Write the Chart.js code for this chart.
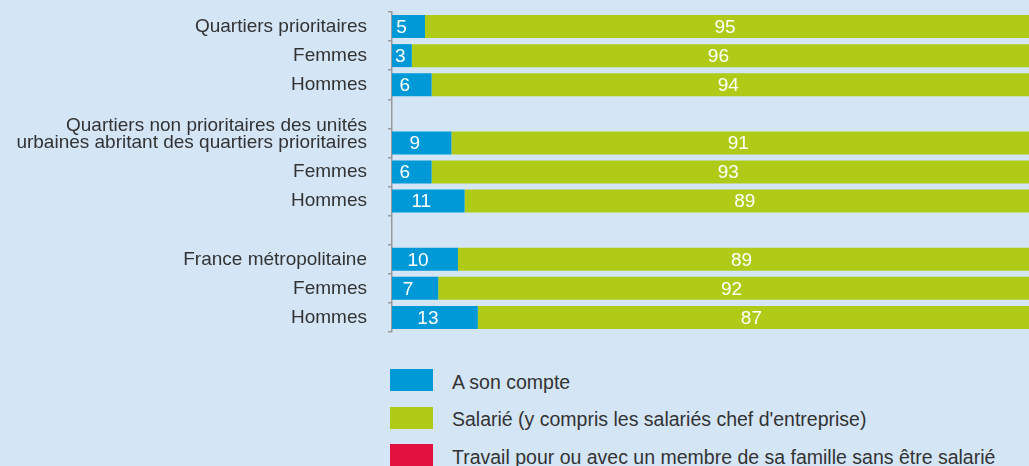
<!DOCTYPE html>
<html lang="fr">
<head>
<meta charset="utf-8">
<title>Statut des actifs occupés</title>
<script src="https://cdn.jsdelivr.net/npm/chart.js@4/dist/chart.umd.min.js"></script>
<style>
  html, body { margin: 0; padding: 0; background: #d4e5f6; overflow: hidden; }
  #wrap { position: relative; width: 1029px; height: 466px; }
  #myChart { position: absolute; left: 0; top: 0; }
  #legend { position: absolute; left: 390px; top: 369px; font-family: "Liberation Sans", Arial, sans-serif; font-size: 19.5px; color: #333; }
  .item { display: flex; align-items: center; height: 22px; margin-bottom: 15.5px; white-space: nowrap; }
  .box { width: 43px; height: 22px; margin-right: 19px; flex: none; }
  .item span:last-child { position: relative; top: 2px; }
</style>
</head>
<body>
<div id="wrap">
  <canvas id="myChart" width="1029" height="345"></canvas>
  <div id="legend"></div>
</div>
<script>
// the trailing '' line lifts the two-line label above its bar
const categories = [
  'Quartiers prioritaires', 'Femmes', 'Hommes', '',
  ['Quartiers non prioritaires des unités', 'urbaines abritant des quartiers prioritaires', ''], 'Femmes', 'Hommes', '',
  'France métropolitaine', 'Femmes', 'Hommes'
];
const aSonCompte = [5, 3, 6, null, 9, 6, 11, null, 10, 7, 13];
const salarie = [95, 96, 94, null, 91, 93, 89, null, 89, 92, 87];
const travailFamille = [0, 1, 0, null, 0, 1, 0, null, 1, 1, 0];

const seriesNames = [
  'A son compte',
  "Salarié (y compris les salariés chef d'entreprise)",
  'Travail pour ou avec un membre de sa famille sans être salarié'
];
const seriesColors = ['#0099d8', '#afcb17', '#e3113f'];

const FONT = '"Liberation Sans", Arial, sans-serif';

// white numbers in the middle of the visible part of each bar
const valueLabels = {
  id: 'valueLabels',
  afterDatasetsDraw(chart) {
    const ctx = chart.ctx;
    const area = chart.chartArea;
    ctx.save();
    ctx.fillStyle = '#ffffff';
    ctx.font = '19px ' + FONT;
    ctx.textAlign = 'center';
    ctx.textBaseline = 'middle';
    [0, 1].forEach(di => {
      const meta = chart.getDatasetMeta(di);
      const shift = di === 0 ? -7 : -2;
      meta.data.forEach((bar, i) => {
        const v = chart.data.datasets[di].data[i];
        if (v == null) return;
        const x0 = Math.max(bar.base, area.left);
        const x1 = Math.min(bar.x, area.right);
        const w = ctx.measureText(String(v)).width;
        const x = Math.max((x0 + x1) / 2 + shift, x0 + w / 2 + 3);
        ctx.fillText(String(v), x, bar.y + 1);
      });
    });
    ctx.restore();
  }
};

const ctx = document.getElementById('myChart');

const chart = new Chart(ctx, {
  type: 'bar',
  data: {
    labels: categories,
    datasets: [
      { label: seriesNames[0], data: aSonCompte, backgroundColor: seriesColors[0] },
      { label: seriesNames[1], data: salarie, backgroundColor: seriesColors[1] },
      { label: seriesNames[2], data: travailFamille, backgroundColor: seriesColors[2] }
    ]
  },
  options: {
    indexAxis: 'y',
    responsive: false,
    animation: false,
    devicePixelRatio: 1,
    barPercentage: 0.79,
    categoryPercentage: 1,
    layout: { padding: { top: 12, bottom: 13, left: 0, right: 0 } },
    plugins: {
      legend: { display: false },
      tooltip: { enabled: false }
    },
    scales: {
      x: {
        stacked: true,
        display: false,
        min: 0,
        max: 96.5
      },
      y: {
        stacked: true,
        offset: true,
        afterFit(scale) {
          scale.width = 392;
          scale.paddingTop = 0;
          scale.paddingBottom = 0;
        },
        grid: {
          offset: true,
          drawOnChartArea: false,
          drawTicks: true,
          tickLength: 4,
          color: '#9a9a9a',
          lineWidth: 1.5
        },
        border: { display: true, color: '#9a9a9a', width: 1.5 },
        ticks: {
          padding: 21,
          color: '#333333',
          font: { family: FONT, size: 19, lineHeight: 0.9 },
          autoSkip: false
        }
      }
    }
  },
  plugins: [valueLabels]
});

// legend below the plot, one entry per line
const legend = document.getElementById('legend');
chart.data.datasets.forEach(ds => {
  const item = document.createElement('div');
  item.className = 'item';
  const box = document.createElement('span');
  box.className = 'box';
  box.style.background = ds.backgroundColor;
  const txt = document.createElement('span');
  txt.textContent = ds.label;
  item.appendChild(box);
  item.appendChild(txt);
  legend.appendChild(item);
});
</script>
</body>
</html>
